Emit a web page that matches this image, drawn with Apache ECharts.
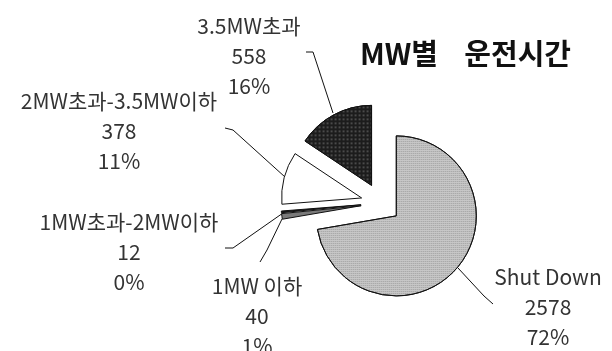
<!DOCTYPE html>
<html>
<head>
<meta charset="utf-8">
<script src="https://cdn.jsdelivr.net/npm/echarts@6/dist/echarts.min.js"></script>
<style>
  html, body { margin: 0; padding: 0; background: #fff; }
  #chart { width: 612px; height: 351px; }
</style>
</head>
<body>
<div id="chart"></div>
<script>
// data
const categories = ["Shut Down", "1MW 이하", "1MW초과-2MW이하", "2MW초과-3.5MW이하", "3.5MW초과"];
const hours = [2578, 40, 12, 378, 558];

// styling
const sliceColors = ["#c8c8c8", "#7a7a7a", "#1a1a1a", "#ffffff", "#1c1c1c"];
const sliceDecals = [
  { symbol: "rect", symbolSize: 1, dashArrayX: [1, 1], dashArrayY: [1, 1], color: "#9a9a9a" },
  null,
  null,
  null,
  { symbol: "rect", symbolSize: 1, dashArrayX: [2, 2], dashArrayY: [2, 2], color: "#4a4a4a" },
];
// where each label block sits (center of the three lines)
const labelPos = [[548, 307], [257, 316], [129, 252], [119, 131], [249, 56]];
// leader lines, label end -> bend -> slice
const leaderPts = [
  [[493, 304], [484, 296], [458, 268]],
  [[260, 262], [267, 250], [282, 219]],
  [[225, 248], [233, 248], [283, 213]],
  [[225, 128], [233, 130], [285, 177]],
  [[306, 52], [313, 52], [333, 113]],
];

const chart = echarts.init(document.getElementById("chart"));

const pieBase = {
  type: "pie",
  center: [381, 203],
  radius: 80,
  startAngle: 90,
  clockwise: true,
  percentPrecision: 0,
  avoidLabelOverlap: false,
  emphasis: { disabled: true },
};

const option = {
  backgroundColor: "#fff",
  animation: false,
  title: {
    text: "MW별    운전시간",
    left: 355,
    top: 34,
    textStyle: {
      fontFamily: "Noto Sans CJK KR",
      fontSize: 29,
      fontWeight: "bold",
      color: "#111",
    },
  },
  series: [
    // visible slices, every one pulled out a little
    Object.assign({}, pieBase, {
      selectedMode: "multiple",
      selectedOffset: 20,
      itemStyle: { borderColor: "#111", borderWidth: 1 },
      label: { show: false },
      labelLine: { show: false },
      select: { itemStyle: { borderColor: "#111", borderWidth: 1 } },
      data: categories.map((name, i) => ({
        name: name,
        value: hours[i],
        selected: true,
        itemStyle: sliceDecals[i]
          ? { color: sliceColors[i], decal: sliceDecals[i] }
          : { color: sliceColors[i] },
      })),
    }),
    // same pie, invisible, only carries the labels and leader lines
    Object.assign({}, pieBase, {
      silent: true,
      itemStyle: { color: "rgba(0,0,0,0)", borderWidth: 0 },
      label: {
        show: true,
        position: "outside",
        formatter: "{b}\n{c}\n{d}%",
        fontFamily: "Noto Sans CJK KR",
        fontSize: 21,
        lineHeight: 30,
        color: "#333",
        align: "center",
      },
      labelLine: {
        show: true,
        lineStyle: { color: "#111", width: 1 },
      },
      labelLayout: function (params) {
        const i = params.dataIndex;
        return {
          x: labelPos[i][0],
          y: labelPos[i][1],
          align: "center",
          verticalAlign: "middle",
          labelLinePoints: leaderPts[i],
        };
      },
      data: categories.map((name, i) => ({ name: name, value: hours[i] })),
    }),
  ],
};

chart.setOption(option);
</script>
</body>
</html>
